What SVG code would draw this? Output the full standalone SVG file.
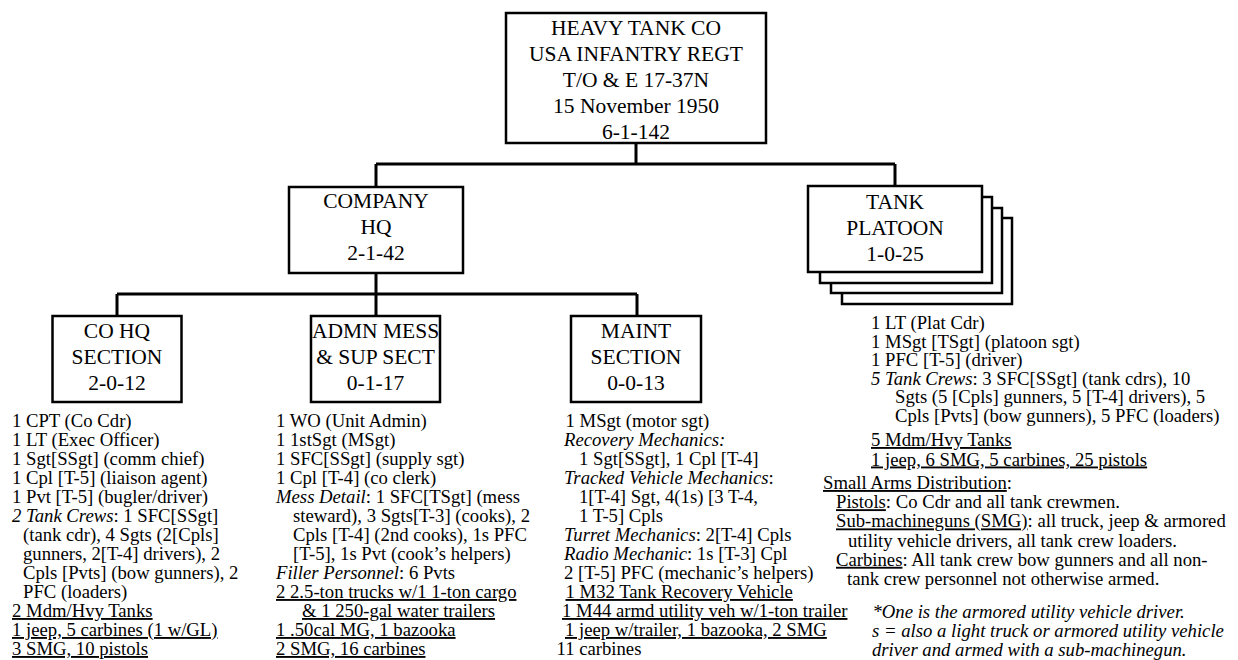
<svg xmlns="http://www.w3.org/2000/svg" width="1238" height="660" viewBox="0 0 1238 660">
<style>
.box{fill:#fff;stroke:#000;stroke-width:2.5}
.conn{fill:none;stroke:#000;stroke-width:3}
.t{font-family:'Liberation Serif','Times New Roman',serif;font-size:21.5px;text-anchor:middle;fill:#000}
.b{font-family:'Liberation Serif','Times New Roman',serif;font-size:18.7px;fill:#000}
.i{font-style:italic}
.u{text-decoration:underline}
</style>
<rect width="1238" height="660" fill="#fff"/>
<g id="connectors">
<path class="conn" d="M636 143V164M376 164H895M376 164V186M895 164V186M376 273V294M117 294H637M117 294V316M376 294V316M637 294V316"/>
</g>
<g id="heavy-tank-co">
<rect class="box" x="506" y="13" width="260" height="130"/>
<text class="t" x="636" y="35">HEAVY TANK CO</text>
<text class="t" x="636" y="61">USA INFANTRY REGT</text>
<text class="t" x="636" y="87">T/O &amp; E 17-37N</text>
<text class="t" x="636" y="113">15 November 1950</text>
<text class="t" x="636" y="139">6-1-142</text>
</g>
<g id="company-hq">
<rect class="box" x="289" y="187" width="174" height="86"/>
<text class="t" x="376" y="208">COMPANY</text>
<text class="t" x="376" y="234">HQ</text>
<text class="t" x="376" y="260">2-1-42</text>
</g>
<g id="tank-platoon">
<rect class="box" x="842" y="218" width="170" height="86"/>
<rect class="box" x="831" y="208" width="171" height="85"/>
<rect class="box" x="820" y="197" width="172" height="86"/>
<rect class="box" x="808" y="186" width="174" height="86"/>
<text class="t" x="895" y="209">TANK</text>
<text class="t" x="895" y="235">PLATOON</text>
<text class="t" x="895" y="261">1-0-25</text>
</g>
<g id="co-hq-section">
<rect class="box" x="52.5" y="316" width="129" height="86"/>
<text class="t" x="117" y="338">CO HQ</text>
<text class="t" x="117" y="364">SECTION</text>
<text class="t" x="117" y="390">2-0-12</text>
</g>
<g id="admn-mess-sup-sect">
<rect class="box" x="311" y="316" width="129" height="86"/>
<text class="t" x="375.5" y="338">ADMN MESS</text>
<text class="t" x="375.5" y="364">&amp; SUP SECT</text>
<text class="t" x="375.5" y="390">0-1-17</text>
</g>
<g id="maint-section">
<rect class="box" x="571" y="316" width="130" height="86"/>
<text class="t" x="636" y="338">MAINT</text>
<text class="t" x="636" y="364">SECTION</text>
<text class="t" x="636" y="390">0-0-13</text>
</g>
<g id="co-hq-section-details" class="b">
<text x="12" y="427">1 CPT (Co Cdr)</text>
<text x="12" y="446">1 LT (Exec Officer)</text>
<text x="12" y="465">1 Sgt[SSgt] (comm chief)</text>
<text x="12" y="484">1 Cpl [T-5] (liaison agent)</text>
<text x="12" y="503">1 Pvt [T-5] (bugler/driver)</text>
<text x="12" y="522"><tspan class="i">2 Tank Crews</tspan>: 1 SFC[SSgt]</text>
<text x="23" y="541">(tank cdr), 4 Sgts (2[Cpls]</text>
<text x="23" y="560">gunners, 2[T-4] drivers), 2</text>
<text x="23" y="579">Cpls [Pvts] (bow gunners), 2</text>
<text x="23" y="598">PFC (loaders)</text>
<text x="12" y="617" class="u">2 Mdm/Hvy Tanks</text>
<text x="12" y="636" class="u">1 jeep, 5 carbines (1 w/GL)</text>
<text x="12" y="655" class="u">3 SMG, 10 pistols</text>
</g>
<g id="admn-mess-sup-sect-details" class="b">
<text x="276" y="427">1 WO (Unit Admin)</text>
<text x="276" y="446">1 1stSgt (MSgt)</text>
<text x="276" y="465">1 SFC[SSgt] (supply sgt)</text>
<text x="276" y="484">1 Cpl [T-4] (co clerk)</text>
<text x="276" y="503"><tspan class="i">Mess Detail</tspan>: 1 SFC[TSgt] (mess</text>
<text x="293" y="522">steward), 3 Sgts[T-3] (cooks), 2</text>
<text x="293" y="541">Cpls [T-4] (2nd cooks), 1s PFC</text>
<text x="293" y="560">[T-5], 1s Pvt (cook’s helpers)</text>
<text x="276" y="579"><tspan class="i">Filler Personnel</tspan>: 6 Pvts</text>
<text x="276" y="598" class="u">2 2.5-ton trucks w/1 1-ton cargo</text>
<text x="302" y="617" class="u">&amp; 1 250-gal water trailers</text>
<text x="276" y="636" class="u">1 .50cal MG, 1 bazooka</text>
<text x="276" y="655" class="u">2 SMG, 16 carbines</text>
</g>
<g id="maint-section-details" class="b">
<text x="565.5" y="427">1 MSgt (motor sgt)</text>
<text x="564" y="446" class="i">Recovery Mechanics:</text>
<text x="579" y="465">1 Sgt[SSgt], 1 Cpl [T-4]</text>
<text x="564" y="484"><tspan class="i">Tracked Vehicle Mechanics</tspan>:</text>
<text x="579" y="503">1[T-4] Sgt, 4(1s) [3 T-4,</text>
<text x="579" y="522">1 T-5] Cpls</text>
<text x="564" y="541"><tspan class="i">Turret Mechanics</tspan>: 2[T-4] Cpls</text>
<text x="564" y="560"><tspan class="i">Radio Mechanic</tspan>: 1s [T-3] Cpl</text>
<text x="564" y="579">2 [T-5] PFC (mechanic’s helpers)</text>
<text x="565.5" y="598" class="u">1 M32 Tank Recovery Vehicle</text>
<text x="562" y="617" class="u">1 M44 armd utility veh w/1-ton trailer</text>
<text x="565" y="636" class="u">1 jeep w/trailer, 1 bazooka, 2 SMG</text>
<text x="556.5" y="655">11 carbines</text>
</g>
<g id="tank-platoon-details" class="b">
<text x="871" y="329">1 LT (Plat Cdr)</text>
<text x="871" y="347.6">1 MSgt [TSgt] (platoon sgt)</text>
<text x="871" y="366.2">1 PFC [T-5] (driver)</text>
<text x="871" y="384.8"><tspan class="i">5 Tank Crews</tspan>: 3 SFC[SSgt] (tank cdrs), 10</text>
<text x="895" y="403.4">Sgts (5 [Cpls] gunners, 5 [T-4] drivers), 5</text>
<text x="895" y="422">Cpls [Pvts] (bow gunners), 5 PFC (loaders)</text>
<text x="871" y="446" class="u">5 Mdm/Hvy Tanks</text>
<text x="871" y="465.5" class="u">1 jeep, 6 SMG, 5 carbines, 25 pistols</text>
</g>
<g id="small-arms-distribution" class="b">
<text x="823" y="489"><tspan class="u">Small Arms Distribution</tspan>:</text>
<text x="836" y="508.2"><tspan class="u">Pistols</tspan>: Co Cdr and all tank crewmen.</text>
<text x="836" y="527.4"><tspan class="u">Sub-machineguns (SMG)</tspan>: all truck, jeep &amp; armored</text>
<text x="848" y="546.6">utility vehicle drivers, all tank crew loaders.</text>
<text x="836" y="565.8"><tspan class="u">Carbines</tspan>: All tank crew bow gunners and all non-</text>
<text x="847" y="585">tank crew personnel not otherwise armed.</text>
</g>
<g id="footnotes" class="b i">
<text x="872.5" y="618">*One is the armored utility vehicle driver.</text>
<text x="872" y="637">s = also a light truck or armored utility vehicle</text>
<text x="872" y="656">driver and armed with a sub-machinegun.</text>
</g>
</svg>
